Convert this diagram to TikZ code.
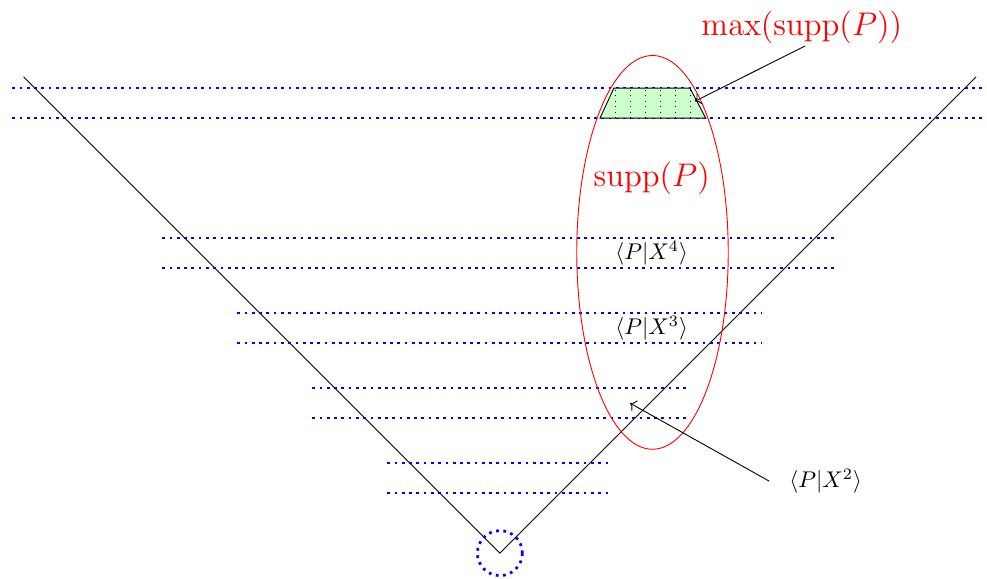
\documentclass[tikz,border=0pt]{standalone}
\usepackage{amsmath}
\usepackage{amssymb}
\usepackage{xcolor}
\usepackage{tikz}
\usetikzlibrary{positioning, arrows.meta}

\begin{document}
\begin{tikzpicture}[
  x=0.58cm, y=0.58cm,
  font=\normalsize,
  level/.style={blue, very thick, dotted},
  support/.style={red},
  bigred/.style={red, font=\Large, inner sep=1pt},
  slice/.style={draw, fill=green!20},
  arr/.style={->}
]
\useasboundingbox (-13.33,-0.69) rectangle (12.99,14.75);
% cone
\draw (-12.7,12.7) -- (0,0) -- (12.7,12.7);
\draw[level] (0,0) circle (0.6);
% levels
\draw[level] (-3,1.6)  -- (3,1.6);
\draw[level] (-3,2.4)  -- (3,2.4);
\draw[level] (-5,3.6)  -- (5,3.6);
\draw[level] (-5,4.4)  -- (5,4.4);
\draw[level] (-7,5.6)  -- (7,5.6);
\draw[level] (-7,6.4)  -- (7,6.4);
\draw[level] (-9,7.6)  -- (9,7.6);
\draw[level] (-9,8.4)  -- (9,8.4);
\draw[level] (-13,11.6) -- (13,11.6);
\draw[level] (-13,12.4) -- (13,12.4);
% support
\draw[support] (4.07,8.02) ellipse (2.02 and 5.25);
\draw[slice] (2.67,11.6) -- (5.49,11.6) -- (5.07,12.4) -- (3.04,12.4) -- cycle;
\begin{scope}
  \clip (2.67,11.6) -- (5.49,11.6) -- (5.07,12.4) -- (3.04,12.4) -- cycle;
  \draw[dotted] (3.07,11.6) -- (3.07,12.4);
  \draw[dotted] (3.47,11.6) -- (3.47,12.4);
  \draw[dotted] (3.87,11.6) -- (3.87,12.4);
  \draw[dotted] (4.27,11.6) -- (4.27,12.4);
  \draw[dotted] (4.67,11.6) -- (4.67,12.4);
  \draw[dotted] (5.07,11.6) -- (5.07,12.4);
\end{scope}
% labels
\node[bigred] (maxlbl)  at (8.05,14.03) {$\max(\mathrm{supp}(P))$};
\node[bigred] (supplbl) at (4.05,10)    {$\mathrm{supp}(P)$};
\node (x4lbl) at (4.05,8)    {$\langle P|X^4\rangle$};
\node (x3lbl) at (4.05,6)    {$\langle P|X^3\rangle$};
\node (x2lbl) at (8.69,1.92) {$\langle P|X^2\rangle$};
\coordinate (maxtip) at (5.2,12.05);
\coordinate (x2tip)  at (3.47,4.0);
\draw[arr] ([xshift=0.05cm]maxlbl.south) -- (maxtip);
\draw[arr] ([xshift=-0.19cm]x2lbl.west) -- (x2tip);
\end{tikzpicture}
\end{document}
